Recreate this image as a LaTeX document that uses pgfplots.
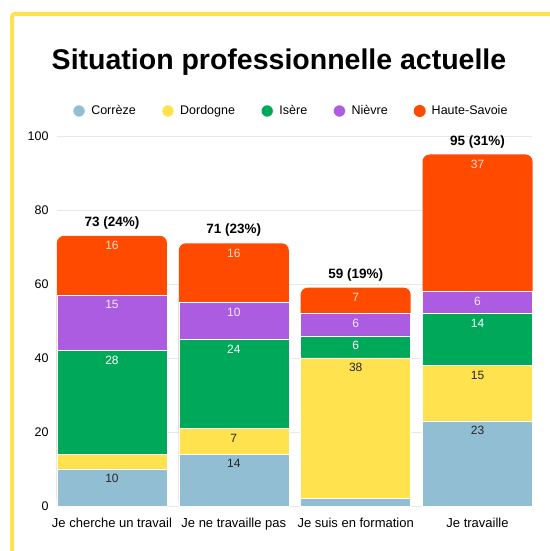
\documentclass[border=0pt]{standalone}
\usepackage{pgfplots}
\pgfplotsset{compat=1.18}
\usepackage{fontspec}
\setmainfont{Liberation Sans}
\definecolor{cblue}{RGB}{146,190,212}
\definecolor{cyellow}{RGB}{255,226,77}
\definecolor{cgreen}{RGB}{0,168,90}
\definecolor{cpurple}{RGB}{172,92,224}
\definecolor{corange}{RGB}{255,74,0}
\definecolor{frame}{RGB}{255,226,77}
\definecolor{gridc}{RGB}{232,232,232}
\pgfplotsset{
  base/.style={
    at={(57pt,45pt)}, anchor=south west,
    scale only axis, width=475pt, height=370pt,
    xmin=-0.451, xmax=3.447, ymin=0, ymax=100,
    bar width=110pt,
    axis line style={draw=none},
    major tick length=0pt,
    clip=false,
  }
}
\begin{document}
\begin{tikzpicture}[x=1pt,y=1pt]
\path[use as bounding box] (0,0) rectangle (549,551);
\draw[frame, line width=4pt, rounded corners=3pt] (12,-5) -- (12,537) -- (560,537);
\node[font=\bfseries\fontsize{28.5}{32}\selectfont, anchor=center] at (279,489) {Situation professionnelle actuelle};
% background axis: grid, ticks, totals (rounded top bars) and total labels
\begin{axis}[base,
  ybar,
  ymajorgrids, grid style={gridc, line width=0.8pt},
  ytick={0,20,40,60,80,100},
  xtick={0,1,2,3},
  xticklabels={Je cherche un travail, Je ne travaille pas, Je suis en formation, Je travaille},
  xticklabel style={font=\fontsize{13}{15}\selectfont, yshift=-9pt},
  yticklabel style={font=\fontsize{12.5}{15}\selectfont, xshift=-5pt},
  /pgf/number format/assume math mode=true,
  point meta=explicit symbolic,
  nodes near coords,
  every node near coord/.append style={anchor=south, yshift=3pt, font=\bfseries\fontsize{13.5}{16}\selectfont, text=black},
]
\addplot[fill=corange, draw=none, rounded corners=7pt] coordinates {(0,73) [73 (24\%)] (1,71) [71 (23\%)] (2,59) [59 (19\%)] (3,95) [95 (31\%)]};
\end{axis}
% stacked axis
\begin{axis}[base,
  ybar stacked,
  xtick=\empty, ytick=\empty,
  point meta=explicit symbolic,
  visualization depends on={rawy \as \rawy},
  nodes near coords,
  every node near coord/.append style={anchor=north, yshift={\rawy*1.85pt-2pt}, font=\fontsize{12}{14}\selectfont},
  legend columns=5,
  legend style={at={(0.493,1)}, anchor=center, yshift=25pt, draw=none, fill=none,
    font=\fontsize{12.5}{15}\selectfont,
    /tikz/every even column/.append style={column sep=24pt}},
  legend image code/.code={\fill[#1] (0pt,0pt) circle (6pt); \path (10pt,0pt);},
]
\addplot[fill=cblue, draw=white, line width=0.4pt, nodes near coords style={text=black!85}] coordinates {(0,10) [10] (1,14) [14] (2,2) [\mbox{}] (3,23) [23]};
\addplot[fill=cyellow, draw=white, line width=0.4pt, nodes near coords style={text=black!85}] coordinates {(0,4) [\mbox{}] (1,7) [7] (2,38) [38] (3,15) [15]};
\addplot[fill=cgreen, draw=white, line width=0.4pt, nodes near coords style={text=white}] coordinates {(0,28) [28] (1,24) [24] (2,6) [6] (3,14) [14]};
\addplot[fill=cpurple, draw=white, line width=0.4pt, nodes near coords style={text=white!88!cpurple}] coordinates {(0,15) [15] (1,10) [10] (2,6) [6] (3,6) [6]};
\addplot[fill=none, draw=none, forget plot, nodes near coords style={text=white!82!corange}] coordinates {(0,16) [16] (1,16) [16] (2,7) [7] (3,37) [37]};
\addlegendimage{fill=corange, draw=none}
\legend{Corrèze, Dordogne, Isère, Nièvre, Haute-Savoie}
\end{axis}
\end{tikzpicture}
\end{document}
